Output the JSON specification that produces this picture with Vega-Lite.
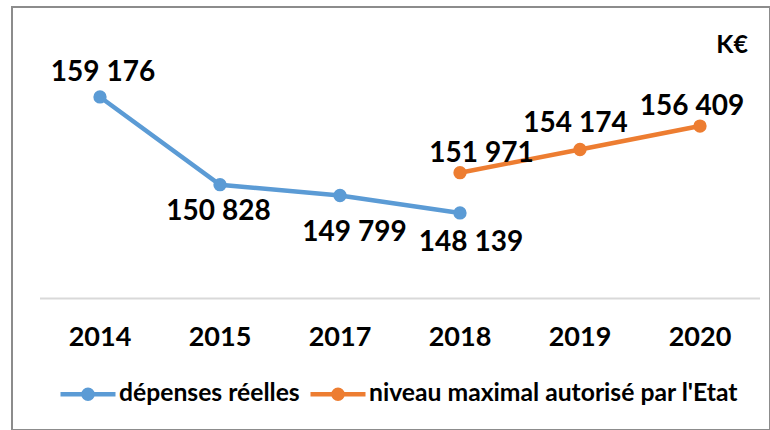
{
  "$schema": "https://vega.github.io/schema/vega-lite/v6.json",
  "width": 758,
  "height": 423,
  "autosize": "none",
  "padding": {"left": 12, "top": 7, "right": 0, "bottom": 0},
  "background": "white",
  "config": {
    "locale": {"number": {"decimal": ",", "thousands": " ", "grouping": [3], "currency": ["", " €"]}},
    "view": {"stroke": "#8c8c8c", "strokeWidth": 2},
    "font": "Lato"
  },
  "title": {
    "text": "K€",
    "anchor": "end",
    "frame": "group",
    "orient": "top",
    "offset": -63,
    "dx": -22,
    "baseline": "middle",
    "font": "Lato",
    "fontSize": 25,
    "fontWeight": "bold",
    "color": "#000000"
  },
  "datasets": {
    "main": [
      {"year": "2014", "series": "dépenses réelles", "value": 159176},
      {"year": "2015", "series": "dépenses réelles", "value": 150828},
      {"year": "2017", "series": "dépenses réelles", "value": 149799},
      {"year": "2018", "series": "dépenses réelles", "value": 148139},
      {"year": "2018", "series": "niveau maximal autorisé par l'Etat", "value": 151971},
      {"year": "2019", "series": "niveau maximal autorisé par l'Etat", "value": 154174},
      {"year": "2020", "series": "niveau maximal autorisé par l'Etat", "value": 156409}
    ],
    "base": [{"baseline": 140000}]
  },
  "data": {"name": "main"},
  "encoding": {
    "x": {
      "field": "year",
      "type": "ordinal",
      "sort": null,
      "scale": {"type": "band", "domain": ["2014", "2015", "2017", "2018", "2019", "2020"], "paddingInner": 0, "paddingOuter": 0.15833, "align": 0.7368},
      "axis": {
        "orient": "bottom",
        "offset": -93,
        "title": null,
        "domain": false,
        "ticks": false,
        "tickSize": 0,
        "grid": false,
        "labelPadding": 0,
        "labelBaseline": "middle",
        "labelFont": "Lato",
        "labelFontSize": 27,
        "labelFontWeight": "bold",
        "labelColor": "#000000",
        "labelAngle": 0
      }
    },
    "y": {
      "field": "value",
      "type": "quantitative",
      "scale": {"domain": [127488, 167735], "nice": false, "zero": false},
      "axis": null
    }
  },
  "layer": [
    {
      "data": {"name": "base"},
      "mark": {"type": "rule", "color": "#d9d9d9", "strokeWidth": 2},
      "encoding": {
        "x": {"datum": "2014", "bandPosition": 0, "type": "ordinal"},
        "x2": {"datum": "2020", "bandPosition": 1},
        "y": {"field": "baseline", "type": "quantitative"}
      }
    },
    {
      "mark": {"type": "line", "strokeWidth": 4.5, "strokeCap": "round"},
      "encoding": {
        "color": {
          "field": "series",
          "type": "nominal",
          "scale": {"domain": ["dépenses réelles", "niveau maximal autorisé par l'Etat"], "range": ["#5B9BD5", "#ED7D31"]},
          "legend": {
            "orient": "none",
            "legendX": 46,
            "legendY": 357,
            "direction": "horizontal",
            "title": null,
            "padding": 0,
            "symbolType": "M-1,0L1,0M-0.164,0A0.164,0.164,0,1,1,0.164,0A0.164,0.164,0,1,1,-0.164,0ZM-0.073,0A0.073,0.073,0,1,1,0.073,0A0.073,0.073,0,1,1,-0.073,0Z",
            "symbolSize": 3025,
            "symbolStrokeWidth": 4.5,
            "symbolOpacity": 1,
            "labelFont": "Lato",
            "labelFontSize": 24.7,
            "labelFontWeight": "bold",
            "labelColor": "#000000",
            "labelOffset": 1,
            "columnPadding": 1,
            "labelLimit": 500,
            "encode": {
              "symbols": {
                "update": {
                  "fill": {"scale": "color", "field": "value"},
                  "stroke": {"scale": "color", "field": "value"},
                  "strokeWidth": {"value": 4.5},
                  "opacity": {"value": 1}
                }
              }
            }
          }
        },
        "detail": {"field": "series"}
      }
    },
    {
      "mark": {"type": "point", "filled": true, "size": 177, "opacity": 1},
      "encoding": {
        "color": {
          "field": "series",
          "type": "nominal",
          "scale": {"domain": ["dépenses réelles", "niveau maximal autorisé par l'Etat"], "range": ["#5B9BD5", "#ED7D31"]},
          "legend": {
            "orient": "none",
            "legendX": 46,
            "legendY": 357,
            "direction": "horizontal",
            "title": null,
            "padding": 0,
            "symbolType": "M-1,0L1,0M-0.164,0A0.164,0.164,0,1,1,0.164,0A0.164,0.164,0,1,1,-0.164,0ZM-0.073,0A0.073,0.073,0,1,1,0.073,0A0.073,0.073,0,1,1,-0.073,0Z",
            "symbolSize": 3025,
            "symbolStrokeWidth": 4.5,
            "symbolOpacity": 1,
            "labelFont": "Lato",
            "labelFontSize": 24.7,
            "labelFontWeight": "bold",
            "labelColor": "#000000",
            "labelOffset": 1,
            "columnPadding": 1,
            "labelLimit": 500,
            "encode": {
              "symbols": {
                "update": {
                  "fill": {"scale": "color", "field": "value"},
                  "stroke": {"scale": "color", "field": "value"},
                  "strokeWidth": {"value": 4.5},
                  "opacity": {"value": 1}
                }
              }
            }
          }
        }
      }
    },
    {
      "transform": [{"filter": {"and": [{"field": "year", "equal": "2014"}, {"field": "series", "equal": "dépenses réelles"}]}}],
      "mark": {"type": "text", "dx": 3, "dy": -24, "font": "Lato", "fontSize": 28, "fontWeight": "bold", "color": "#000000"},
      "encoding": {"text": {"field": "value", "type": "quantitative", "format": ",d"}}
    },
    {
      "transform": [{"filter": {"and": [{"field": "year", "equal": "2015"}, {"field": "series", "equal": "dépenses réelles"}]}}],
      "mark": {"type": "text", "dx": -1.5, "dy": 27, "font": "Lato", "fontSize": 28, "fontWeight": "bold", "color": "#000000"},
      "encoding": {"text": {"field": "value", "type": "quantitative", "format": ",d"}}
    },
    {
      "transform": [{"filter": {"and": [{"field": "year", "equal": "2017"}, {"field": "series", "equal": "dépenses réelles"}]}}],
      "mark": {"type": "text", "dx": 14.5, "dy": 37, "font": "Lato", "fontSize": 28, "fontWeight": "bold", "color": "#000000"},
      "encoding": {"text": {"field": "value", "type": "quantitative", "format": ",d"}}
    },
    {
      "transform": [{"filter": {"and": [{"field": "year", "equal": "2018"}, {"field": "series", "equal": "dépenses réelles"}]}}],
      "mark": {"type": "text", "dx": 11, "dy": 30, "font": "Lato", "fontSize": 28, "fontWeight": "bold", "color": "#000000"},
      "encoding": {"text": {"field": "value", "type": "quantitative", "format": ",d"}}
    },
    {
      "transform": [{"filter": {"and": [{"field": "year", "equal": "2018"}, {"field": "series", "equal": "niveau maximal autorisé par l'Etat"}]}}],
      "mark": {"type": "text", "dx": 21.5, "dy": -18.5, "font": "Lato", "fontSize": 28, "fontWeight": "bold", "color": "#000000"},
      "encoding": {"text": {"field": "value", "type": "quantitative", "format": ",d"}}
    },
    {
      "transform": [{"filter": {"and": [{"field": "year", "equal": "2019"}, {"field": "series", "equal": "niveau maximal autorisé par l'Etat"}]}}],
      "mark": {"type": "text", "dx": -4.5, "dy": -26, "font": "Lato", "fontSize": 28, "fontWeight": "bold", "color": "#000000"},
      "encoding": {"text": {"field": "value", "type": "quantitative", "format": ",d"}}
    },
    {
      "transform": [{"filter": {"and": [{"field": "year", "equal": "2020"}, {"field": "series", "equal": "niveau maximal autorisé par l'Etat"}]}}],
      "mark": {"type": "text", "dx": -8, "dy": -19, "font": "Lato", "fontSize": 28, "fontWeight": "bold", "color": "#000000"},
      "encoding": {"text": {"field": "value", "type": "quantitative", "format": ",d"}}
    }
  ]
}
